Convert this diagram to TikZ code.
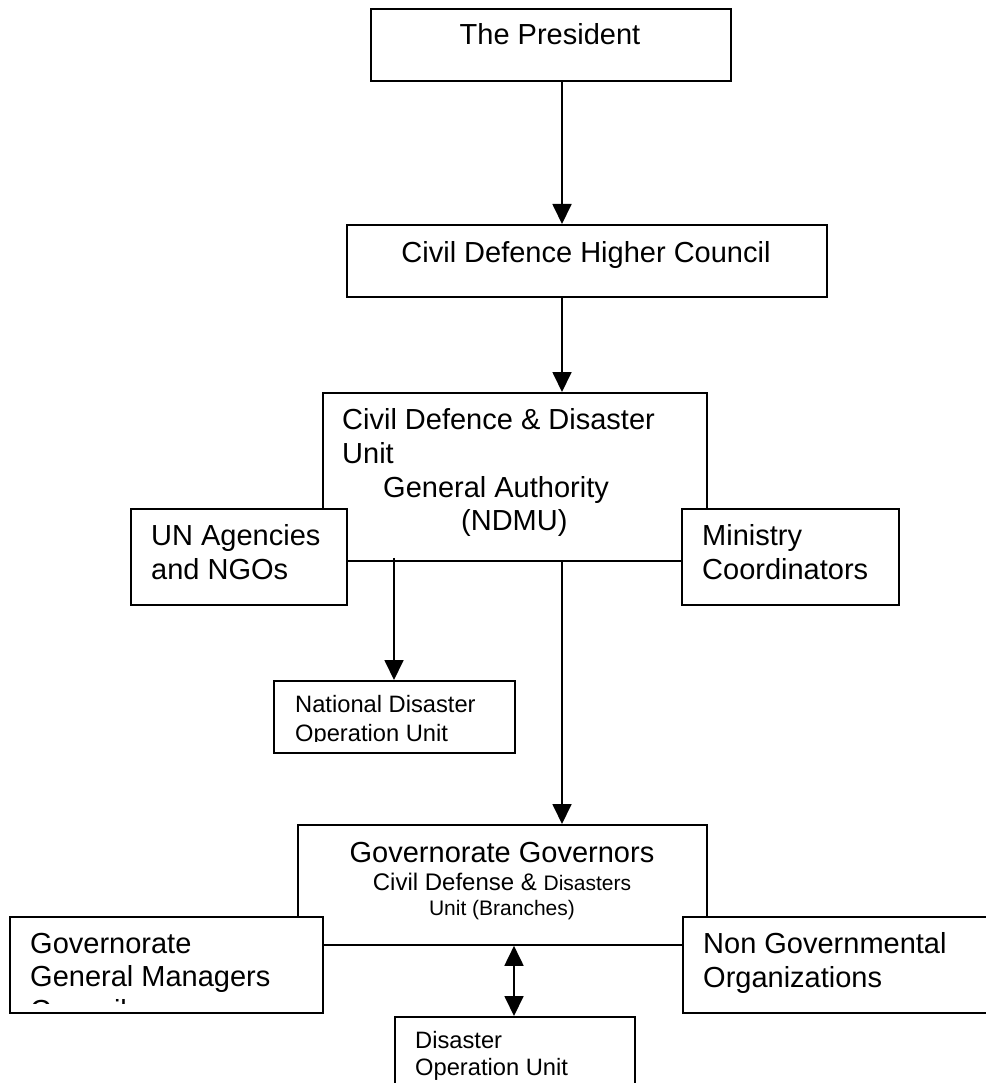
\documentclass[tikz,border=0pt]{standalone}
\usepackage{fontspec}
\setmainfont{Liberation Sans}
\usetikzlibrary{arrows.meta}
\newcommand\fsz[1]{\fontsize{#1}{#1}\selectfont}
\tikzset{
  box/.style={draw, line width=1.8pt, fill=white, inner sep=0pt, anchor=north west, rectangle},
  txt/.style={anchor=base west, inner sep=0pt, font=\fsz{29}},
  ctxt/.style={anchor=base, inner sep=0pt, font=\fsz{29}},
  stxt/.style={anchor=base west, inner sep=0pt, font=\fsz{23.7}},
  conn/.style={line width=1.8pt, -{Triangle[length=20pt,width=19pt]}},
  dconn/.style={line width=1.8pt, {Triangle[length=20pt,width=19pt]}-{Triangle[length=20pt,width=19pt]}}
}
\begin{document}
\begin{tikzpicture}[x=1pt, y=-1pt]
\useasboundingbox (0,0) rectangle (985,1083);
% boxes (order matters: side boxes overlap the centre boxes)
\node[box, minimum width=360pt, minimum height=72pt] (pres) at (370,8) {};
\node[box, minimum width=480pt, minimum height=72pt] (council) at (346,224) {};
\node[box, minimum width=384pt, minimum height=168pt] (ndmu) at (322,392) {};
\node[box, minimum width=216pt, minimum height=96pt] (un) at (130,508) {};
\node[box, minimum width=217pt, minimum height=96pt] (min) at (681,508) {};
\node[box, minimum width=241pt, minimum height=72pt] (nat) at (273,680) {};
\node[box, minimum width=409pt, minimum height=120pt] (gov) at (297,824) {};
\node[box, minimum width=313pt, minimum height=96pt] (gm) at (9,916) {};
\node[box, minimum width=320pt, minimum height=96pt] (ngo) at (682,916) {};
\node[box, minimum width=240pt, minimum height=90pt] (dou) at (394,1016) {};
% column coordinates
\coordinate (cA) at (562,0);
\coordinate (cB) at (394,0);
\coordinate (cC) at (514,0);
% connectors
\draw[conn] (pres.south -| cA) -- (council.north -| cA);
\draw[conn] (council.south -| cA) -- (ndmu.north -| cA);
\draw[conn] (ndmu.south -| cA) -- (gov.north -| cA);
\draw[conn] ([yshift=4pt]ndmu.south -| cB) -- (nat.north -| cB);
\draw[dconn] (gov.south -| cC) -- (dou.north -| cC);
% texts
\node[ctxt] (presT) at (550,45) {The President};
\node[ctxt] (councilT) at (586,262) {Civil Defence Higher Council};
\node[txt] (ndmuT1) at (342,429) {Civil Defence \& Disaster};
\node[txt] (ndmuT2) at (342,463) {Unit};
\node[txt] (ndmuT3) at (383,497) {General Authority};
\node[txt] (ndmuT4) at (461,530) {(NDMU)};
\node[txt] (unT1) at (151,545) {UN Agencies};
\node[txt] (unT2) at (151,579) {and NGOs};
\node[txt] (minT1) at (702,545) {Ministry};
\node[txt] (minT2) at (702,579) {Coordinators};
\node[stxt] (natT1) at (295,712) {National Disaster};
\begin{scope}
\clip (0,0) rectangle (985,741);
\node[stxt] (natT2) at (295,741) {Operation Unit};
\end{scope}
\node[ctxt] (govT1) at (502,862) {Governorate Governors};
\node[anchor=base, inner sep=0pt] (govT2) at (502,890) {\fsz{24}Civil Defense \& {\fsz{21}Disasters}};
\node[anchor=base, inner sep=0pt, font=\fsz{21}] (govT3) at (502,915) {Unit (Branches)};
\node[txt] (gmT1) at (30,953) {Governorate};
\node[txt] (gmT2) at (30,986) {General Managers};
\begin{scope}
\clip (0,0) rectangle (985,1003);
\node[txt] (gmT3) at (30,1020) {Council};
\end{scope}
\node[txt] (ngoT1) at (703,953) {Non Governmental};
\node[txt] (ngoT2) at (703,987) {Organizations};
\node[stxt] (douT1) at (415,1048) {Disaster};
\node[stxt] (douT2) at (415,1075) {Operation Unit};
\end{tikzpicture}
\end{document}
